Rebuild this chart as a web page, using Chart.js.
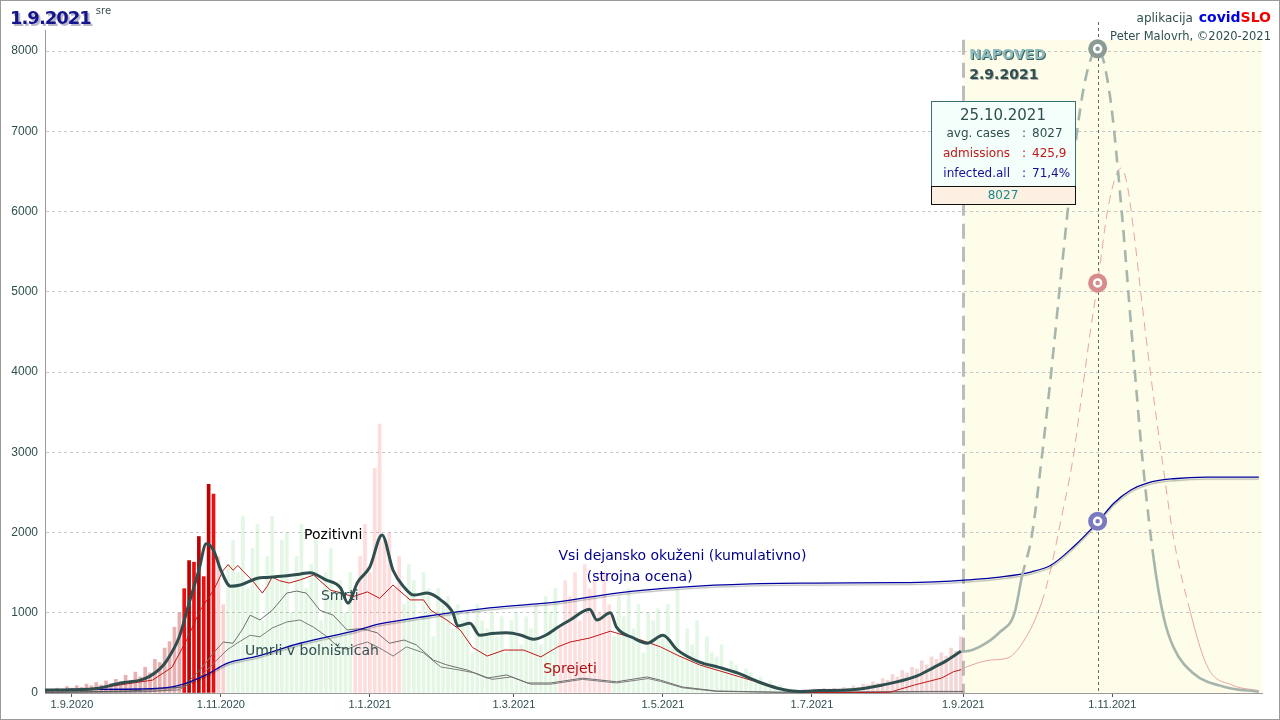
<!DOCTYPE html>
<html>
<head>
<meta charset="utf-8">
<script src="https://cdn.jsdelivr.net/npm/chart.js@4.4.0/dist/chart.umd.min.js"></script>
<style>
html, body { margin: 0; padding: 0; background: #fff; }
#wrap { width: 1280px; height: 720px; }
</style>
</head>
<body>
<div id="wrap"><canvas id="chart" width="1280" height="720"></canvas></div>
<script>
// days counted from 1.9.2020 (day 0)
const tickDays = [0, 61, 122, 181, 242, 303, 365, 426];
const tickLabels = ['1.9.2020', '1.11.2020', '1.1.2021', '1.3.2021', '1.5.2021', '1.7.2021', '1.9.2021', '1.11.2021'];
const yTicks = [0, 1000, 2000, 3000, 4000, 5000, 6000, 7000, 8000];

// Pozitivni (7-day average) - measured
const posDays = [-11, 0, 11, 20, 28, 32, 36, 39, 44, 48, 52, 55, 58, 61, 65, 69, 76, 80, 88, 93, 97.5, 104, 110, 113, 117, 122, 127, 131.5, 136, 140, 145.5, 151, 156, 158, 163, 167, 172, 178, 184, 189, 194, 199, 204, 212, 215, 220.5, 223, 230, 235.5, 242, 248, 257, 265, 272.5, 281, 289, 298, 306, 319, 332, 345, 353, 358, 364];
const posVals = [37, 40, 60, 125, 160, 210, 300, 410, 700, 1120, 1530, 1860, 1780, 1530, 1330, 1345, 1430, 1440, 1460, 1480, 1500, 1410, 1310, 1120, 1380, 1570, 1970, 1530, 1320, 1220, 1245, 1160, 1000, 835, 870, 720, 740, 750, 720, 670, 720, 820, 910, 1045, 910, 1000, 820, 685, 620, 720, 535, 385, 320, 250, 140, 60, 20, 30, 40, 100, 200, 320, 400, 520];
// Pozitivni - forecast
const posFcDays = [364, 366, 372, 380, 386, 389, 393, 397, 401, 405, 410, 415, 420, 425, 430, 434, 438.5, 443, 447, 451, 459, 472, 486];
const posFcVals = [520, 520, 580, 760, 1000, 1450, 1950, 2900, 4000, 5200, 6620, 7650, 8027, 7450, 5950, 4460, 2870, 1660, 950, 575, 250, 75, 15];

// Sprejeti (admissions, plotted scale)
const admDays = [-11, 0, 11, 25, 33, 41, 47, 52.5, 58, 62, 64, 66, 68, 70, 74, 78, 80, 82, 85, 89, 93.5, 99, 106, 110, 115, 121, 126, 131.5, 138.5, 144, 147, 153.5, 159, 164, 170, 177, 185, 192, 199, 204, 212, 220.5, 226, 233, 241, 248, 257, 267, 278, 289, 302, 320, 335, 345, 356, 361, 364];
const admVals = [25, 40, 60, 125, 160, 320, 660, 1030, 1280, 1530, 1600, 1530, 1590, 1520, 1400, 1245, 1330, 1445, 1400, 1370, 1410, 1470, 1280, 1250, 1200, 1260, 1180, 1345, 1160, 1160, 1030, 910, 785, 570, 460, 535, 535, 450, 575, 635, 685, 770, 720, 660, 575, 470, 350, 260, 160, 50, 5, 5, 10, 100, 185, 265, 290];
const admFcDays = [364, 366, 376, 383, 390, 397, 401, 405, 409.8, 413, 417, 420, 424, 427, 429.5, 432, 435, 438, 442, 446.6, 451, 457, 465, 475, 486];
const admFcVals = [290, 320, 410, 435, 660, 1120, 1570, 2160, 2900, 3600, 4500, 5110, 6000, 6400, 6540, 6350, 5700, 4900, 3900, 2870, 1945, 1120, 325, 100, 30];

// Smrti
const deathDays = [-11, 24, 45.5, 52.5, 58, 62, 66, 70, 73, 77, 82, 88, 92, 96, 101.6, 107, 112.7, 117, 121, 125, 130, 136, 141, 148, 153.5, 162, 170, 178, 186.5, 196, 209, 223, 235.6, 241, 250, 264, 290, 330, 350, 365];
const deathVals = [5, 25, 75, 290, 500, 635, 620, 800, 970, 910, 1030, 1245, 1270, 1245, 1030, 970, 785, 800, 785, 750, 620, 660, 600, 410, 350, 285, 185, 225, 125, 125, 185, 140, 200, 160, 75, 25, 10, 15, 20, 20];
// Umrli v bolnišnicah
const hospDeathDays = [-11, 30, 44, 52.5, 58, 63.5, 67.6, 73, 77, 82, 88, 93.4, 99, 104.5, 109, 112.7, 117, 121, 126, 131.6, 137, 144, 151, 158, 165, 172, 180, 188, 196, 209, 223, 236, 241, 250, 264, 290, 330, 350, 365];
const hospDeathVals = [5, 15, 40, 200, 370, 535, 620, 720, 700, 810, 885, 910, 820, 700, 575, 545, 600, 635, 560, 460, 575, 500, 325, 290, 250, 170, 200, 110, 110, 170, 125, 180, 145, 65, 20, 8, 10, 15, 15];

// Vsi dejansko okuženi (kumulativno)
const infDays = [-11, 0, 28, 41, 48, 55, 63.5, 76, 93.4, 117, 126, 144, 171, 199, 223, 250, 278, 305, 339, 353, 367, 380, 393, 401, 410, 420, 426.6, 433.6, 440.6, 451, 465, 486];
const infVals = [40, 45, 50, 75, 135, 225, 370, 460, 620, 785, 860, 950, 1060, 1135, 1245, 1320, 1360, 1370, 1375, 1385, 1410, 1445, 1510, 1595, 1820, 2130, 2365, 2530, 2620, 2670, 2690, 2690];

// daily bars, every second day starting at day -10
const barStart = -10;
const barVals = [
  40, 30, 60, 50, 80, 60, 90,
  70, 110, 90, 130, 100, 150, 120,
  170, 140, 220, 160, 260, 200, 320,
  250, 420, 380, 560, 640, 820, 1000,
  1300, 1650, 1630, 1950, 1450, 2600, 2480,
  1700, 1100, 1600, 1900, 1500, 2200, 1300,
  1800, 2100, 900, 1700, 2200, 1400, 1900,
  2000, 1000, 1700, 2100, 1300, 1600, 1900,
  900, 1500, 1800, 1200, 1400, 1000, 1500,
  1200, 1700, 2100, 1500, 2800, 3350, 1900,
  2000, 1300, 1700, 1100, 1600, 1400, 900,
  1500, 1300, 700, 1300, 1100, 1200, 800,
  1100, 900, 1000, 500, 1100, 900, 800,
  1000, 700, 950, 500, 900, 1000, 600,
  950, 800, 1100, 600, 1200, 1000, 1300,
  800, 1400, 1200, 1500, 900, 1600, 1300,
  1400, 1000, 1500, 1100, 700, 1200, 950,
  1300, 800, 1100, 500, 1000, 900, 1050,
  700, 1100, 600, 1300, 500, 800, 600,
  900, 400, 700, 500, 450, 600, 300,
  400, 350, 200, 300, 250, 150, 200,
  120, 150, 80, 100, 60, 50, 40,
  30, 40, 30, 50, 40, 60, 50,
  60, 40, 70, 60, 90, 70, 110,
  100, 140, 120, 180, 160, 230, 200,
  280, 250, 320, 300, 400, 350, 450,
  420, 500, 460, 560, 520, 700
];

// highlighted day 25.10.2021
const markDay = 420;
const markVals = [8027, 5110, 2140];
const tipTitle = '25.10.2021';
const tipRows = [['avg. cases', '8027'], ['admissions', '425,9'], ['infected.all', '71,4%']];
const tipFoot = '8027';
const forecastDay = 365;

const pts = (xs, ys) => xs.map((x, i) => ({ x: x, y: ys[i] }));
const barData = barVals.map((v, i) => ({ x: barStart + 2 * i, y: v }));

function barColor(d) {
  if (d < 46) return 'rgba(205,80,80,0.45)';
  if (d <= 58) return d % 4 === 0 ? '#c00000' : '#e81010';
  if (d < 64) return 'rgba(240,120,120,0.35)';
  if (d < 116) return 'rgba(120,210,120,0.2)';
  if (d < 136) return 'rgba(250,130,130,0.28)';
  if (d < 200) return 'rgba(120,210,120,0.2)';
  if (d < 222) return 'rgba(250,130,130,0.26)';
  if (d < 296) return 'rgba(120,210,120,0.2)';
  return 'rgba(220,120,120,0.30)';
}

const FONT = '"DejaVu Sans", sans-serif';
const AXISFONT = '"Liberation Sans", Arial, sans-serif';

const dashHigh = (dash) => ({
  borderDash: c => (c.p0.parsed.y > 1000 && c.p1.parsed.y > 1000) ? dash : undefined
});

// text labels anchored in data space
const notes = [
  { d: 107, v: 1970, text: 'Pozitivni', color: '#000' },
  { d: 109.7, v: 1210, text: 'Smrti', color: '#2f4f4f' },
  { d: 98.3, v: 523, text: 'Umrli v bolnišnicah', color: '#2f4f4f' },
  { d: 204, v: 300, text: 'Sprejeti', color: '#b01010' },
  { d: 250, v: 1707, text: 'Vsi dejansko okuženi (kumulativno)', color: '#00008b' },
  { d: 232.5, v: 1445, text: '(strojna ocena)', color: '#00008b' }
];

const backdrop = {
  id: 'backdrop',
  beforeDraw(chart) {
    const { ctx, chartArea: a, scales: { x, y } } = chart;
    ctx.save();
    ctx.fillStyle = '#fff';
    ctx.fillRect(0, 0, chart.width, chart.height);
    ctx.fillStyle = '#fdfde9';
    const x0 = x.getPixelForValue(forecastDay);
    const y0 = y.getPixelForValue(8140);
    ctx.fillRect(x0, y0, a.right - x0, a.bottom - y0);
    ctx.restore();
  },
  beforeDatasetsDraw(chart) {
    const { ctx, chartArea: a, scales: { x, y } } = chart;
    ctx.save();
    // forecast start
    const xf = Math.round(x.getPixelForValue(forecastDay)) + 0.5;
    ctx.strokeStyle = '#bdbdbd';
    ctx.lineWidth = 3;
    ctx.setLineDash([15, 8]);
    ctx.beginPath();
    ctx.moveTo(xf, y.getPixelForValue(8140));
    ctx.lineTo(xf, a.bottom);
    ctx.stroke();
    // selected day
    const xm = Math.round(x.getPixelForValue(markDay)) + 0.5;
    ctx.strokeStyle = '#666';
    ctx.lineWidth = 1;
    ctx.setLineDash([3, 3]);
    ctx.beginPath();
    ctx.moveTo(xm, 22);
    ctx.lineTo(xm, a.bottom);
    ctx.stroke();
    ctx.restore();
  }
};

const shadow = {
  id: 'shadow',
  beforeDatasetDraw(chart, args) {
    if (chart.data.datasets[args.index].shade) {
      const ctx = chart.ctx;
      ctx.save();
      ctx.shadowColor = 'rgba(0,0,0,0.28)';
      ctx.shadowOffsetY = 2;
      ctx.shadowBlur = 1;
    }
  },
  afterDatasetDraw(chart, args) {
    if (chart.data.datasets[args.index].shade) chart.ctx.restore();
  }
};

const overlay = {
  id: 'overlay',
  afterDraw(chart) {
    const { ctx, scales: { x, y } } = chart;
    ctx.save();
    ctx.textBaseline = 'middle';

    // series labels
    notes.forEach(n => {
      ctx.font = '14px ' + FONT;
      ctx.fillStyle = n.color;
      ctx.textAlign = 'center';
      ctx.fillText(n.text, x.getPixelForValue(n.d), y.getPixelForValue(n.v));
    });

    // NAPOVED
    const xf = x.getPixelForValue(forecastDay) + 6;
    ctx.textAlign = 'left';
    ctx.textBaseline = 'alphabetic';
    ctx.font = 'bold 14px ' + FONT;
    ctx.fillStyle = '#3d5f60';
    ctx.fillText('NAPOVED', xf + 1, 60);
    ctx.fillStyle = '#8dbcbf';
    ctx.fillText('NAPOVED', xf, 59);
    ctx.fillStyle = '#b0b0b0';
    ctx.fillText('2.9.2021', xf + 1, 80);
    ctx.fillStyle = '#2f4f4f';
    ctx.fillText('2.9.2021', xf, 79);

    // tooltip box
    const bx = 931, by = 101, bw = 144, bh = 85;
    ctx.fillStyle = '#f4fffb';
    ctx.fillRect(bx, by, bw, bh);
    ctx.strokeStyle = '#3a7070';
    ctx.lineWidth = 1;
    ctx.strokeRect(bx + 0.5, by + 0.5, bw, bh);
    ctx.fillStyle = '#fbf0e2';
    ctx.fillRect(bx, by + bh, bw, 18);
    ctx.strokeStyle = '#111';
    ctx.strokeRect(bx + 0.5, by + bh + 0.5, bw, 18);
    ctx.textBaseline = 'middle';
    ctx.textAlign = 'center';
    ctx.font = '15px ' + FONT;
    ctx.fillStyle = '#2f4f4f';
    ctx.fillText(tipTitle, bx + bw / 2, by + 15);
    const rowCols = ['#2f4f4f', '#c01818', '#10109a'];
    tipRows.forEach((r, i) => {
      const ry = by + 33 + i * 20;
      ctx.font = '12px ' + FONT;
      ctx.fillStyle = rowCols[i];
      ctx.textAlign = 'right';
      ctx.fillText(r[0], bx + 79, ry);
      ctx.textAlign = 'center';
      ctx.fillText(':', bx + 93, ry);
      ctx.textAlign = 'left';
      ctx.fillText(r[1], bx + 101, ry);
    });
    ctx.textAlign = 'center';
    ctx.font = '12px ' + FONT;
    ctx.fillStyle = '#1a8a8a';
    ctx.fillText(tipFoot, bx + bw / 2, by + bh + 10);

    // title
    ctx.textAlign = 'left';
    ctx.textBaseline = 'alphabetic';
    ctx.font = 'bold 18px ' + FONT;
    ctx.letterSpacing = '-1px';
    ctx.fillStyle = '#b8b8c8';
    ctx.fillText('1.9.2021', 12, 26);
    ctx.fillStyle = '#14148c';
    ctx.fillText('1.9.2021', 10, 24);
    const wTitle = ctx.measureText('1.9.2021').width;
    ctx.letterSpacing = '0px';
    ctx.font = '10px ' + FONT;
    ctx.fillStyle = '#3a5050';
    ctx.fillText('sre', 10 + wTitle + 5, 14);

    // credits
    ctx.textAlign = 'right';
    ctx.font = 'bold 14px ' + FONT;
    ctx.fillStyle = '#f00000';
    ctx.fillText('SLO', 1271, 22);
    const wSlo = ctx.measureText('SLO').width;
    ctx.fillStyle = '#0000e0';
    ctx.fillText('covid', 1271 - wSlo, 22);
    const wCov = ctx.measureText('covid').width;
    ctx.font = '12px ' + FONT;
    ctx.fillStyle = '#2f4f4f';
    ctx.fillText('aplikacija ', 1271 - wSlo - wCov - 2, 22);
    ctx.font = '11.5px ' + FONT;
    ctx.fillText('Peter Malovrh, ©2020-2021', 1271, 40);

    // frame
    ctx.strokeStyle = '#9a9a9a';
    ctx.lineWidth = 1;
    ctx.strokeRect(0.5, 0.5, chart.width - 1, chart.height - 1);
    ctx.restore();
  }
};

new Chart(document.getElementById('chart'), {
  type: 'bar',
  data: {
    datasets: [
      { type: 'line', data: markVals.map(v => ({ x: markDay, y: v })), showLine: false,
        pointRadius: 3.5, pointBorderWidth: 2.5, pointBorderColor: '#fff',
        pointBackgroundColor: ['#8a9a94', '#d98a8a', '#7a7ac0'], order: 0 },
      { type: 'line', data: markVals.map(v => ({ x: markDay, y: v })), showLine: false,
        pointRadius: 9.5, pointBorderWidth: 0,
        pointBackgroundColor: ['#8a9a94', '#d98a8a', '#7a7ac0'], order: 1 },
      { type: 'line', label: 'Pozitivni', data: pts(posDays, posVals), borderColor: '#2f4f4f',
        borderWidth: 3, pointRadius: 0, cubicInterpolationMode: 'monotone', order: 2 },
      { type: 'line', label: 'Pozitivni napoved', data: pts(posFcDays, posFcVals), borderColor: '#a6b6ae',
        borderWidth: 2.6, pointRadius: 0, cubicInterpolationMode: 'monotone', segment: dashHigh([12, 8]), order: 3 },
      { type: 'line', label: 'Vsi dejansko okuženi', data: pts(infDays, infVals), borderColor: '#0000a0',
        borderWidth: 1.3, pointRadius: 0, cubicInterpolationMode: 'monotone', shade: true, order: 4 },
      { type: 'line', label: 'Sprejeti', data: pts(admDays, admVals), borderColor: '#c01818',
        borderWidth: 1, pointRadius: 0, order: 5 },
      { type: 'line', label: 'Sprejeti napoved', data: pts(admFcDays, admFcVals), borderColor: '#eaa4a4',
        borderWidth: 1, pointRadius: 0, cubicInterpolationMode: 'monotone', segment: dashHigh([9, 6]), order: 6 },
      { type: 'line', label: 'Smrti', data: pts(deathDays, deathVals), borderColor: '#6e6e6e',
        borderWidth: 1, pointRadius: 0, order: 7 },
      { type: 'line', label: 'Umrli v bolnišnicah', data: pts(hospDeathDays, hospDeathVals), borderColor: '#7c7c7c',
        borderWidth: 1, pointRadius: 0, order: 8 },
      { type: 'bar', label: 'dnevno', data: barData, barThickness: 3,
        backgroundColor: barData.map(p => barColor(p.x)), order: 10 }
    ]
  },
  options: {
    responsive: false,
    animation: false,
    layout: { padding: { left: 0, right: 18, top: 30, bottom: 0 } },
    plugins: { legend: { display: false }, tooltip: { enabled: false } },
    scales: {
      x: {
        type: 'linear', min: -11, max: 487.3, offset: false,
        afterBuildTicks: s => { s.ticks = tickDays.map(v => ({ value: v })); },
        ticks: {
          autoSkip: false, maxRotation: 0, padding: 1, color: '#2f4f4f',
          font: { family: AXISFONT, size: 11 },
          callback: v => tickLabels[tickDays.indexOf(v)] || ''
        },
        grid: { offset: false, drawOnChartArea: false, drawTicks: true, tickLength: 4, tickColor: '#555' },
        border: { color: '#9a9a9a', width: 1 },
        afterFit: s => { s.height = 27; }
      },
      y: {
        min: 0, max: 8262,
        afterBuildTicks: s => { s.ticks = yTicks.map(v => ({ value: v })); },
        ticks: { padding: 7, color: '#2f4f4f', font: { family: AXISFONT, size: 12 }, callback: v => String(v) },
        grid: { color: '#c8c8c8', drawTicks: false },
        border: { color: '#9a9a9a', dash: [3, 3] },
        afterFit: s => { s.width = 45; }
      }
    }
  },
  plugins: [backdrop, shadow, overlay]
});
</script>
</body>
</html>
